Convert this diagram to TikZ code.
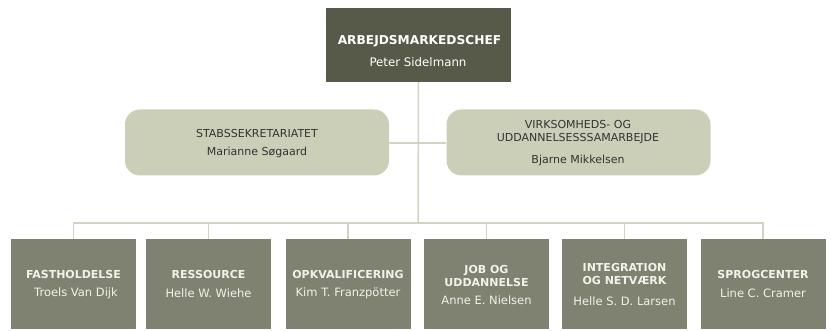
\documentclass[tikz,border=0pt]{standalone}
\usepackage{fontspec}
\setmainfont{DejaVu Sans}
\definecolor{topfill}{HTML}{575A49}
\definecolor{midfill}{HTML}{CBCFB7}
\definecolor{botfill}{HTML}{7F8171}
\definecolor{linec}{HTML}{D2D4C3}
\definecolor{midtext}{HTML}{333333}
\definecolor{bottext}{HTML}{F2F2EA}
\begin{document}
\begin{tikzpicture}[x=1pt,y=-1pt,
  topbox/.style={fill=topfill,draw=none,minimum width=185pt,minimum height=74pt,inner sep=0pt},
  midbox/.style={fill=midfill,draw=none,rounded corners=15pt,minimum width=264pt,minimum height=66pt,inner sep=0pt},
  botbox/.style={fill=botfill,draw=none,minimum width=125pt,minimum height=90pt,inner sep=0pt},
  ttitle/.style={text=white,font=\bfseries\fontsize{12.2}{14}\selectfont,inner sep=0pt},
  tname/.style={text=white,font=\fontsize{11.8}{14}\selectfont,inner sep=0pt},
  mtext/.style={text=midtext,font=\fontsize{11}{13}\selectfont,align=center,inner sep=0pt},
  btitle/.style={text=bottext,font=\bfseries\fontsize{11}{13}\selectfont,align=center,inner sep=0pt},
  bname/.style={text=bottext,font=\fontsize{11.5}{13}\selectfont,inner sep=0pt},
  conn/.style={draw=linec,line width=1.5pt}]
\useasboundingbox (0,0) rectangle (831,331);
\coordinate (bus) at (418,223);
% boxes
\node[topbox] (top) at (418.5,45) {};
\node[midbox] (ml) at (257,142.5) {};
\node[midbox] (mr) at (578.5,142.5) {};
\node[botbox] (b1) at (73.5,284) {};
\node[botbox] (b2) at (208.5,284) {};
\node[botbox] (b3) at (348,284) {};
\node[botbox] (b4) at (486.5,284) {};
\node[botbox] (b5) at (624.5,284) {};
\node[botbox] (b6) at (763,284) {};
% connectors
\draw[conn] (top.south) -- (bus);
\draw[conn] (ml.east |- 0,143) -- (mr.west |- 0,143);
\draw[conn] (b1.north) |- (bus) -| (b6.north);
\foreach \b in {b2,b3,b4,b5} \draw[conn] (\b.north) -- (\b.north |- bus);
% texts
\node[ttitle] (t1) at (419.5,41.5) {ARBEJDSMARKEDSCHEF};
\node[tname] (t2) at (418,62) {Peter Sidelmann};
\node[mtext] (ml1) at (257,133) {STABSSEKRETARIATET};
\node[mtext] (ml2) at (257,152) {Marianne Søgaard};
\node[mtext] (mr1) at (578,132.5) {VIRKSOMHEDS- OG\\UDDANNELSESSSAMARBEJDE};
\node[mtext] (mr2) at (578,160) {Bjarne Mikkelsen};
\node[btitle] (bt1) at (73.5,274) {FASTHOLDELSE};
\node[bname] (bn1) at (76,293) {Troels Van Dijk};
\node[btitle] (bt2) at (208.5,274) {RESSOURCE};
\node[bname] (bn2) at (208.5,293) {Helle W. Wiehe};
\node[btitle] (bt3) at (348,274) {OPKVALIFICERING};
\node[bname] (bn3) at (348,293) {Kim T. Franzpötter};
\node[btitle] (bt4) at (486.5,275.5) {JOB OG\\UDDANNELSE};
\node[bname] (bn4) at (486.5,300) {Anne E. Nielsen};
\node[btitle] (bt5) at (624.5,274) {INTEGRATION\\OG NETVÆRK};
\node[bname] (bn5) at (624.5,301) {Helle S. D. Larsen};
\node[btitle] (bt6) at (763,274) {SPROGCENTER};
\node[bname] (bn6) at (763,293) {Line C. Cramer};
\end{tikzpicture}
\end{document}
